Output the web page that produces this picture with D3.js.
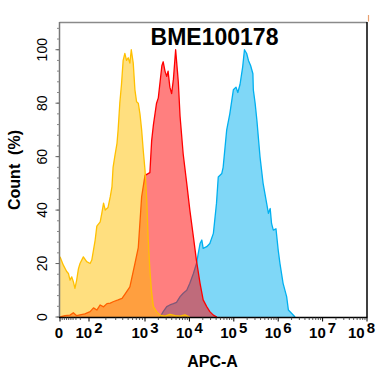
<!DOCTYPE html>
<html>
<head>
<meta charset="utf-8">
<script src="https://cdn.jsdelivr.net/npm/d3@7"></script>
<style>
  body { margin: 0; background: #fff; }
  svg text { font-family: Arial, "Liberation Sans", sans-serif; }
</style>
</head>
<body>
<svg id="chart"></svg>
<script>
// x values are in decades (log10 of APC-A), y values in % of max count
const yellowX = [0.00,0.23,0.46,0.58,0.69,0.81,0.92,1.03,1.15,1.27,1.38,1.61,1.84,2.02,2.05,2.08,2.11,2.14,2.20,2.23,2.26,2.29,2.34,2.38,2.41,2.43,2.46,2.50,2.52,2.55,2.58,2.61,2.64,2.67,2.70,2.73,2.755,2.79,2.82,2.85,2.88,2.91,2.94,2.97,3.00,3.04,3.07,3.11,3.15,3.19,3.26,3.34,3.45,3.56,3.68,3.79,3.90,4.01];
const yellowY = [22.5,19.4,17,16.3,13.8,15,13.2,10.7,13.8,18,20,22.5,20.7,20,21.3,25,28.8,34,35.6,39,42.6,40,41,45,48.7,56,60,65,70,80,87,96,98.6,96,97,95,100,95,85,80.5,80,76,70,62,55,43.7,30,17.6,9,3.9,2,0.7,0.3,1,0.5,0.3,0.8,0];

const redX = [0.00,0.34,0.69,0.92,1.15,1.38,1.72,2.02,2.08,2.14,2.20,2.26,2.32,2.38,2.43,2.52,2.59,2.64,2.73,2.82,2.88,2.94,3.00,3.11,3.15,3.19,3.26,3.30,3.38,3.41,3.45,3.49,3.52,3.56,3.60,3.64,3.69,3.73,3.75,3.79,3.86,3.94,4.01,4.09,4.16,4.24,4.31,4.39,4.46,4.54,4.62];
const redY = [0,0.5,0.7,1.6,0.5,0.8,1.2,2,3.4,2.6,4.5,3.8,5,5.2,5.7,6.4,7,8.5,11.3,20,26,45,53,54,66,72,80,82,94,95.5,92,90,92,86,83.6,89,100,92,88,75,61,50,40,30,21,12.6,6.4,3.9,2,0.7,0];

const blueX = [3.34,3.41,3.49,3.56,3.64,3.71,3.79,3.86,3.94,4.01,4.09,4.16,4.20,4.24,4.28,4.31,4.39,4.46,4.54,4.61,4.65,4.73,4.76,4.84,4.91,4.99,5.05,5.09,5.14,5.20,5.24,5.29,5.33,5.38,5.43,5.44,5.48,5.52,5.59,5.66,5.74,5.78,5.82,5.85,5.89,5.95,6.00,6.04,6.11,6.19,6.23,6.30,6.38];
const blueY = [0,2,3.9,4.5,5,5.5,7.6,8.9,10,12.6,16.3,20,23.8,27.5,28.8,25.7,26.3,27.5,31.3,42.5,52.4,53.7,56,70,76,85,86,84,87,93.6,100,98.6,96,94,91,85,80,73.6,60,50,42.5,38.8,40.6,35,32.5,33,25,20,12.6,7.6,2.6,1.4,0];

const yTicks = [0, 20, 40, 60, 80, 100];
const xTickDecades = [2, 3, 4, 5, 6, 7, 8];

const width = 377, height = 378;
const svg = d3.select("#chart").attr("width", width).attr("height", height);

// biexponential-like display: linear near zero, log above 10^3
let x = d3.scaleLinear().domain([0, 2, 3, 8]).range([60, 89, 145, 367]);
let y = d3.scaleLinear().domain([0, 110]).range([317, 23]);

let series = [
	{xs: blueX, ys: blueY, color: "#00B0F0"},
	{xs: redX, ys: redY, color: "#FF0000"},
	{xs: yellowX, ys: yellowY, color: "#FFC000"}
];

let area = d3.area().x(d => x(d[0])).y0(y(0)).y1(d => y(d[1]));
let line = d3.line().x(d => x(d[0])).y(d => y(d[1]));

series.forEach(s => {
	let pts = s.xs.map((v, i) => [v, s.ys[i]]);
	svg.append("path").attr("d", area(pts))
	   .attr("fill", s.color).attr("fill-opacity", 0.5);
	svg.append("path").attr("d", line(pts))
	   .attr("fill", "none").attr("stroke", s.color)
	   .attr("stroke-width", 1.3).attr("stroke-linejoin", "round");
});

// frame
svg.append("line").attr("x1", 59.5).attr("x2", 367).attr("y1", 22.5).attr("y2", 22.5)
   .attr("stroke", "#8a8a8a").attr("stroke-width", 1.5);
svg.append("line").attr("x1", 367).attr("x2", 367).attr("y1", 22).attr("y2", 317.5)
   .attr("stroke", "#000").attr("stroke-width", 1.5);
svg.append("line").attr("x1", 368.5).attr("x2", 368.5).attr("y1", 15).attr("y2", 21.5)
   .attr("stroke", "#E8A070").attr("stroke-width", 1.2);

// y axis
let yMinor = d3.range(0, 109, 4);
svg.append("line").attr("x1", 59.5).attr("x2", 59.5).attr("y1", 22).attr("y2", 318)
   .attr("stroke", "#777").attr("stroke-width", 1.5);
svg.selectAll(".ymin").data(yMinor).enter().append("line")
   .attr("class", "ymin")
   .attr("x1", 57).attr("x2", 59.5)
   .attr("y1", d => y(d)).attr("y2", d => y(d))
   .attr("stroke", "#888").attr("stroke-width", 1);
svg.selectAll(".ymaj").data(yTicks).enter().append("line")
   .attr("class", "ymaj")
   .attr("x1", 55.5).attr("x2", 59.5)
   .attr("y1", d => y(d)).attr("y2", d => y(d))
   .attr("stroke", "#666").attr("stroke-width", 1);
svg.selectAll(".ylab").data(yTicks).enter().append("text")
   .attr("class", "ylab")
   .attr("transform", d => `translate(47,${y(d)}) rotate(-90)`)
   .attr("text-anchor", "middle")
   .attr("font-size", 14)
   .text(d => d);
svg.append("text")
   .attr("transform", "translate(20,170) rotate(-90)")
   .attr("text-anchor", "middle")
   .attr("font-size", 16).attr("font-weight", "bold")
   .attr("xml:space", "preserve")
   .style("white-space", "pre")
   .text("Count  (%)");

// x axis
svg.append("line").attr("x1", 59).attr("x2", 367.5).attr("y1", 317.5).attr("y2", 317.5)
   .attr("stroke", "#000").attr("stroke-width", 1.5);
let xMinor = [];
[0.15, 0.3, 0.45, 0.6, 0.75, 0.9, 1.1, 1.4].forEach(d => xMinor.push(d));
d3.range(2, 8).forEach(n => d3.range(2, 10).forEach(k => xMinor.push(n + Math.log10(k))));
svg.selectAll(".xmin").data(xMinor).enter().append("line")
   .attr("class", "xmin")
   .attr("x1", d => x(d)).attr("x2", d => x(d))
   .attr("y1", 317.5).attr("y2", 320)
   .attr("stroke", "#333").attr("stroke-width", 0.8);
svg.selectAll(".xmaj").data([0].concat(xTickDecades)).enter().append("line")
   .attr("class", "xmaj")
   .attr("x1", d => x(d)).attr("x2", d => x(d))
   .attr("y1", 317.5).attr("y2", 321.5)
   .attr("stroke", "#000").attr("stroke-width", 1);

svg.append("text").attr("x", 59).attr("y", 338)
   .attr("text-anchor", "middle").attr("font-size", 15).attr("font-weight", "bold")
   .text("0");
let xl = svg.selectAll(".xlab").data(xTickDecades).enter().append("text")
   .attr("class", "xlab")
   .attr("x", d => d === 8 ? 375 : x(d)).attr("y", 338)
   .attr("text-anchor", d => d === 8 ? "end" : "middle")
   .attr("font-size", 15).attr("font-weight", "bold");
xl.append("tspan").text("10");
xl.append("tspan").attr("dx", 2).attr("dy", -5).text(d => d);

svg.append("text").attr("x", 212.5).attr("y", 367)
   .attr("text-anchor", "middle").attr("font-size", 16).attr("font-weight", "bold")
   .text("APC-A");

// title
svg.append("text").attr("x", 214.5).attr("y", 45)
   .attr("text-anchor", "middle").attr("font-size", 23).attr("font-weight", "bold")
   .text("BME100178");
</script>
</body>
</html>
